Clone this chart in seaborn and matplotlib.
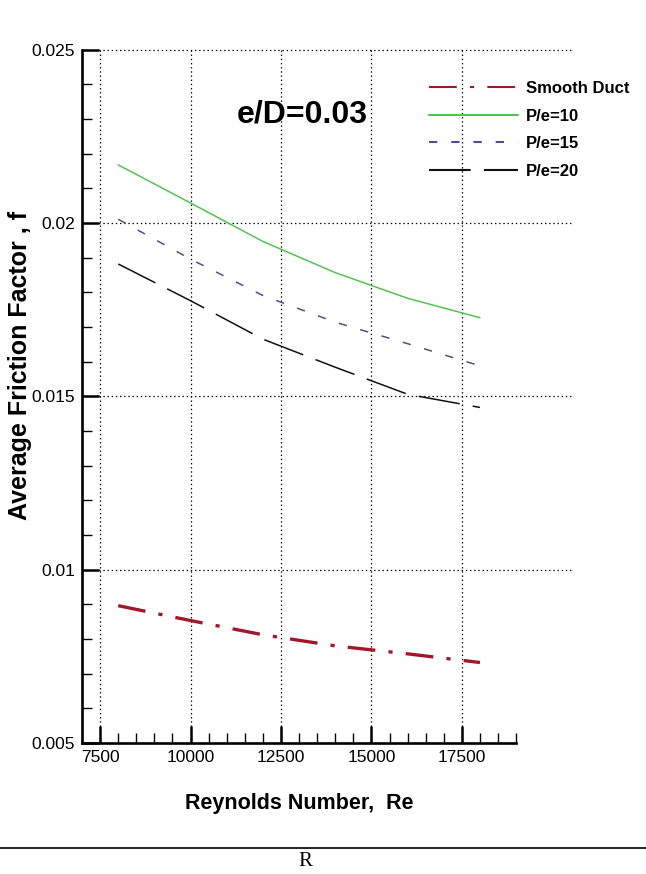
import pandas as pd
import matplotlib.pyplot as plt
import seaborn as sns
import numpy as np
from matplotlib.ticker import MultipleLocator

# data
reynolds = [8000, 10000, 12000, 14000, 16000, 18000]
smooth_duct = [0.00896, 0.00853, 0.00812, 0.00780, 0.00757, 0.00732]
pe_10 = [0.02168, 0.02058, 0.01947, 0.01857, 0.01783, 0.01727]
pe_15 = [0.02011, 0.01896, 0.01791, 0.01714, 0.01652, 0.01588]
pe_20 = [0.01882, 0.01776, 0.01665, 0.01584, 0.01506, 0.01468]
series = ["Smooth Duct", "P/e=10", "P/e=15", "P/e=20"]
x_ticks = [7500, 10000, 12500, 15000, 17500]
y_ticks = [0.005, 0.01, 0.015, 0.02, 0.025]
y_tick_labels = ["0.005", "0.01", "0.015", "0.02", "0.025"]

df = pd.DataFrame({"Re": reynolds * 4,
                   "f": smooth_duct + pe_10 + pe_15 + pe_20,
                   "case": np.repeat(series, len(reynolds))})

sns.set_style("white")
plt.rcParams['font.family'] = ['Liberation Sans', 'DejaVu Sans']
plt.rcParams['lines.scale_dashes'] = False
plt.rcParams['text.color'] = 'black'
plt.rcParams['axes.labelcolor'] = 'black'

palette = {"Smooth Duct": "#A3172A", "P/e=10": "#55C255", "P/e=15": "#4E4E90", "P/e=20": "#111111"}
dashes = {"Smooth Duct": (20, 9.5, 3, 9.5), "P/e=10": "", "P/e=15": (6, 10), "P/e=20": (30, 9.5)}
widths = {"Smooth Duct": 2.4, "P/e=10": 1.1, "P/e=15": 1.1, "P/e=20": 1.1}

fig = plt.figure(figsize=(6.46, 8.74), dpi=100)
ax = fig.add_axes([0.127, 0.15, 0.672, 0.793])

sns.lineplot(data=df, x="Re", y="f", hue="case", style="case", palette=palette,
             dashes=dashes, hue_order=series, style_order=series, ax=ax)
for line, name in zip(ax.lines, series):
    line.set_linewidth(widths[name])

ax.set_xlim(7000, 19000)
ax.set_ylim(0.005, 0.025)
ax.set_xticks(x_ticks)
ax.set_xticklabels([str(t) for t in x_ticks])
ax.set_yticks(y_ticks)
ax.set_yticklabels(y_tick_labels)
ax.xaxis.set_minor_locator(MultipleLocator(500))
ax.yaxis.set_minor_locator(MultipleLocator(0.001))
ax.tick_params(which='major', direction='in', length=12, width=1.8, labelsize=12.5, pad=5, colors='black')
ax.tick_params(which='minor', direction='in', length=7, width=1.0, colors='black')
ax.tick_params(axis='x', which='both', bottom=True)
ax.tick_params(axis='y', which='both', left=True)

sns.despine(ax=ax, top=True, right=True)
for sp in ['left', 'bottom']:
    ax.spines[sp].set_linewidth(1.9)
    ax.spines[sp].set_color('black')

# dotted grid
for yv in y_ticks[1:]:
    ax.axhline(yv, xmin=0, xmax=1.13, color='black', lw=0.9, ls=(0, (1, 2)), clip_on=False, zorder=0)
for xv in x_ticks:
    ax.axvline(xv, color='black', lw=0.9, ls=(0, (1, 2)), zorder=0)

ax.set_xlabel("Reynolds Number,  Re", fontsize=15.5, fontweight='bold', labelpad=20)
ax.set_ylabel("Average Friction Factor , f", fontsize=18, fontweight='bold', labelpad=2)
ax.yaxis.set_label_coords(-0.115, 0.545)

ax.text(0.507, 0.906, "e/D=0.03", transform=ax.transAxes, ha='center', va='center',
        fontsize=23, fontweight='bold')

leg = ax.legend(loc='upper left', bbox_to_anchor=(0.8, 0.955), frameon=False, handlelength=5.3,
                handletextpad=0.5, labelspacing=0.75, borderaxespad=0, borderpad=0,
                prop={'weight': 'bold', 'size': 12})
for t in leg.get_texts():
    t.set_color('black')

# caption rule and stray letter below the figure
fig.add_artist(plt.Line2D([0, 1], [1 - 848 / 874, 1 - 848 / 874], color='black', lw=1.2))
fig.text(0.472, 1 - 862 / 874, "R", ha='center', va='center', fontsize=15,
         family=['Liberation Serif', 'DejaVu Serif'])

fig.savefig("out.png", dpi=100)
